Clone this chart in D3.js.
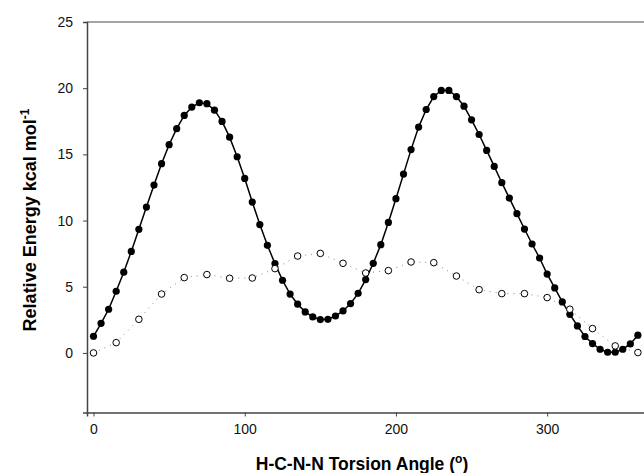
<!DOCTYPE html>
<html>
<head>
<meta charset="utf-8">
<script src="https://cdn.jsdelivr.net/npm/d3@7"></script>
<style>
  body { margin: 0; background: #fff; }
  text { font-family: "Liberation Sans", Arial, sans-serif; }
</style>
</head>
<body>
<script>
const width = 644;
const height = 473;

// scan angles (degrees) and relative energies (kcal/mol)
const scanAngles = d3.range(0, 361, 5);
const scanEnergy = [
    1.26, 2.24, 3.3, 4.66, 6.1, 7.67, 9.34, 11.02, 12.68, 14.3,
    15.73, 16.94, 17.94, 18.57, 18.9, 18.83, 18.34, 17.49, 16.3, 14.82,
    13.18, 11.4, 9.7, 8.13, 6.75, 5.49, 4.45, 3.68, 3.1, 2.72,
    2.52, 2.54, 2.79, 3.17, 3.73, 4.5, 5.54, 6.77, 8.18, 9.86,
    11.65, 13.51, 15.36, 17.06, 18.39, 19.37, 19.83, 19.83, 19.37, 18.64,
    17.61, 16.5, 15.3, 14.09, 12.86, 11.7, 10.52, 9.36, 8.23, 7.17,
    5.96, 4.91, 3.85, 2.92, 2.04, 1.24, 0.71, 0.28, 0.05, 0.05,
    0.28, 0.68, 1.34
];

const openAngles = d3.range(0, 361, 15);
const openEnergy = [
    0.0, 0.78, 2.54, 4.45, 5.69, 5.92, 5.64, 5.66, 6.37, 7.32,
    7.52, 6.77, 6.04, 6.22, 6.87, 6.82, 5.81, 4.78, 4.48, 4.48,
    4.18, 3.3, 1.84, 0.53, 0.03
];

const xTicks = [0, 100, 200, 300];
const yTicks = [0, 5, 10, 15, 20, 25];

const plotLeft = 87, plotRight = 645, plotTop = 22, plotBottom = 412.5;

const x = d3.scaleLinear().domain([-4.3, 364.7]).range([plotLeft, plotRight]);
const y = d3.scaleLinear().domain([-4.5, 25]).range([plotBottom, plotTop]);

const svg = d3.select("body").append("svg")
    .attr("width", width)
    .attr("height", height);

const filled = scanAngles.map((a, i) => ({ a, e: scanEnergy[i] }));
const open = openAngles.map((a, i) => ({ a, e: openEnergy[i] }));

const line = d3.line().x(d => x(d.a)).y(d => y(d.e));

// frame lines
svg.append("line")
    .attr("x1", plotLeft).attr("x2", plotRight).attr("y1", plotTop).attr("y2", plotTop)
    .style("stroke", "#888").style("stroke-width", 1.5);

const xAxis = svg.append("g")
    .attr("transform", `translate(0,${plotBottom})`)
    .call(d3.axisBottom(x).tickValues(xTicks).tickSize(4).tickPadding(8));
const yAxis = svg.append("g")
    .attr("transform", `translate(${plotLeft},0)`)
    .call(d3.axisLeft(y).tickValues(yTicks).tickSize(4).tickPadding(10));

[xAxis, yAxis].forEach(g => {
    g.select(".domain").style("stroke", "#444").style("stroke-width", 1.5);
    g.selectAll(".tick line").style("stroke", "#444");
    g.selectAll(".tick text")
        .style("font-size", "14px")
        .style("fill", "#111")
        .style("font-family", "'Liberation Sans', Arial, sans-serif");
});

// open series: dotted grey line
svg.append("path")
    .datum(open)
    .attr("d", line)
    .style("fill", "none")
    .style("stroke", "#888")
    .style("stroke-width", 1)
    .style("stroke-dasharray", "1,5");

// filled series: solid black line
svg.append("path")
    .datum(filled)
    .attr("d", line)
    .style("fill", "none")
    .style("stroke", "#000")
    .style("stroke-width", 1.5);

svg.selectAll(".filled")
    .data(filled)
    .enter().append("circle")
    .attr("class", "filled")
    .attr("cx", d => x(d.a))
    .attr("cy", d => y(d.e))
    .attr("r", 3.6)
    .style("fill", "#000");

svg.selectAll(".open")
    .data(open)
    .enter().append("circle")
    .attr("class", "open")
    .attr("cx", d => x(d.a))
    .attr("cy", d => y(d.e))
    .attr("r", 3.3)
    .style("fill", "#fff")
    .style("stroke", "#000")
    .style("stroke-width", 1);

// axis titles
const xTitle = svg.append("text")
    .attr("x", 362)
    .attr("y", 470)
    .attr("text-anchor", "middle")
    .style("font-size", "17.5px")
    .style("font-weight", "bold");
xTitle.append("tspan").text("H-C-N-N Torsion Angle (");
xTitle.append("tspan").attr("dy", -7).style("font-size", "12px").text("o");
xTitle.append("tspan").attr("dy", 7).text(")");

const yTitle = svg.append("text")
    .attr("transform", "translate(36,220) rotate(-90)")
    .attr("text-anchor", "middle")
    .style("font-size", "18px")
    .style("font-weight", "bold");
yTitle.append("tspan").text("Relative Energy kcal mol");
yTitle.append("tspan").attr("dy", -7).style("font-size", "12px").text("-1");
</script>
</body>
</html>
